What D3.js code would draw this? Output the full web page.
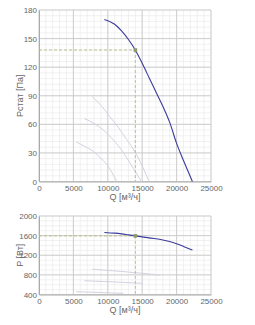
<!DOCTYPE html>
<html><head><meta charset="utf-8">
<script src="https://cdn.jsdelivr.net/npm/d3@7"></script>
<style>
html,body{margin:0;padding:0;background:#fff;}
svg{display:block;font-family:"Liberation Sans",Arial,sans-serif;}
</style></head>
<body>
<svg id="c" width="255" height="325"></svg>
<script>
// ---- data ----
const xTicks = [0, 5000, 10000, 15000, 20000, 25000];
const pTicks = [0, 30, 60, 90, 120, 150, 180];
const wTicks = [400, 800, 1200, 1600, 2000];

const mainPressQ = [9500, 11000, 12000, 13000, 14000, 15000, 16000, 17000, 18000, 19000, 20000, 21000, 22300];
const mainPressV = [170, 165, 158, 149, 138, 124, 109, 94, 79, 62, 40, 22, 0];

const faintAQ = [7750, 9000, 10300, 11500, 12750, 14200, 16000];
const faintAV = [89, 80, 68, 57, 44, 28, 0];
const faintBQ = [6600, 8000, 9350, 10500, 11800, 13700, 14900];
const faintBV = [66, 61, 54, 46, 35, 14, 0];
const faintCQ = [5400, 6600, 7900, 8900, 9850, 11300];
const faintCV = [41.5, 37, 31.5, 25, 18, 0];

const mainPowerQ = [9500, 11000, 12000, 13000, 14000, 15000, 16000, 17000, 18000, 19000, 20000, 21000, 22300];
const mainPowerV = [1665, 1650, 1635, 1615, 1595, 1575, 1555, 1535, 1510, 1480, 1435, 1380, 1305];

const faintPAQ = [7750, 12000, 17600];
const faintPAV = [915, 870, 797];
const faintPBQ = [6600, 11000, 15100];
const faintPBV = [681, 655, 628];
const faintPCQ = [5400, 9000, 12250];
const faintPCV = [457, 440, 424];

const opQ = 14000, opP = 138, opW = 1595;

// ---- drawing ----
const svg = d3.select("#c");
const mainColor = "#3b3b9c", faintColor = "#d2d2e2", dashColor = "#b9c08c";
const textColor = "#666";

function panel(cfg) {
  const x = d3.scaleLinear().domain([0, 25000]).range([39, 211]);
  const y = d3.scaleLinear().domain(cfg.yDomain).range(cfg.yRange);
  const g = svg.append("g");
  // minor grid
  const xm = d3.range(0, 25001, 1000);
  const ym = d3.range(cfg.yDomain[0], cfg.yDomain[1] + 0.001, cfg.yMinor);
  g.selectAll(".xm").data(xm).join("line")
    .attr("x1", d => x(d)).attr("x2", d => x(d)).attr("y1", y.range()[0]).attr("y2", y.range()[1])
    .attr("stroke", "#e8e8e8").attr("stroke-width", 0.6);
  g.selectAll(".ym").data(ym).join("line")
    .attr("y1", d => y(d)).attr("y2", d => y(d)).attr("x1", 39).attr("x2", 211)
    .attr("stroke", "#e8e8e8").attr("stroke-width", 0.6);
  // major grid
  g.selectAll(".xM").data(xTicks).join("line")
    .attr("x1", d => x(d)).attr("x2", d => x(d)).attr("y1", y.range()[0]).attr("y2", y.range()[1])
    .attr("stroke", "#c9c9c9").attr("stroke-width", 0.9);
  g.selectAll(".yM").data(cfg.yTicks).join("line")
    .attr("y1", d => y(d)).attr("y2", d => y(d)).attr("x1", 39).attr("x2", 211)
    .attr("stroke", "#c9c9c9").attr("stroke-width", 0.9);
  // axes
  const ax = g.append("g").attr("transform", `translate(0,${y.range()[0]})`)
    .call(d3.axisBottom(x).tickValues(xTicks).tickSize(0).tickPadding(4).tickFormat(d3.format("d")));
  const ay = g.append("g").attr("transform", `translate(39,0)`)
    .call(d3.axisLeft(y).tickValues(cfg.yTicks).tickSize(0).tickPadding(2).tickFormat(d3.format("d")));
  [ax, ay].forEach(a => {
    a.select(".domain").attr("stroke", "#aaa").attr("stroke-width", 1);
    a.selectAll("text").attr("fill", textColor).attr("font-size", "8px").attr("font-family", "Liberation Sans, Arial, sans-serif");
  });
  // titles
  g.append("text").attr("x", 125).attr("y", y.range()[0] + 18).attr("text-anchor", "middle")
    .attr("fill", textColor).attr("font-size", "9px").text("Q [м³/ч]");
  const my = (y.range()[0] + y.range()[1]) / 2;
  g.append("text").attr("transform", `translate(23,${my}) rotate(-90)`).attr("text-anchor", "middle")
    .attr("fill", textColor).attr("font-size", "9px").text(cfg.yTitle);

  const line = d3.line().x(d => x(d[0])).y(d => y(d[1])).curve(d3.curveMonotoneX);
  cfg.faint.forEach(([q, v]) => {
    g.append("path").datum(d3.zip(q, v)).attr("d", line)
      .attr("fill", "none").attr("stroke", faintColor).attr("stroke-width", 1);
  });
  // dashed op lines
  g.append("line").attr("x1", x(0)).attr("x2", x(opQ)).attr("y1", y(cfg.op)).attr("y2", y(cfg.op))
    .attr("stroke", dashColor).attr("stroke-width", 1).attr("stroke-dasharray", "3,2");
  g.append("line").attr("x1", x(opQ)).attr("x2", x(opQ)).attr("y1", y(cfg.op)).attr("y2", y.range()[0])
    .attr("stroke", dashColor).attr("stroke-width", 1).attr("stroke-dasharray", "3,2");
  g.append("path").datum(d3.zip(cfg.mainQ, cfg.mainV)).attr("d", line)
    .attr("fill", "none").attr("stroke", mainColor).attr("stroke-width", 1.1);
  g.append("rect").attr("x", x(opQ) - 1.8).attr("y", y(cfg.op) - 1.8).attr("width", 3.6).attr("height", 3.6)
    .attr("fill", "#8d9a6a");
}

panel({
  yDomain: [0, 180], yRange: [181.5, 10], yTicks: pTicks, yMinor: 6, yTitle: "Pстат [Па]",
  mainQ: mainPressQ, mainV: mainPressV, op: opP,
  faint: [[faintAQ, faintAV], [faintBQ, faintBV], [faintCQ, faintCV]]
});
panel({
  yDomain: [400, 2000], yRange: [294.5, 216], yTicks: wTicks, yMinor: 100, yTitle: "P [Вт]",
  mainQ: mainPowerQ, mainV: mainPowerV, op: opW,
  faint: [[faintPAQ, faintPAV], [faintPBQ, faintPBV], [faintPCQ, faintPCV]]
});
</script>
</body></html>
